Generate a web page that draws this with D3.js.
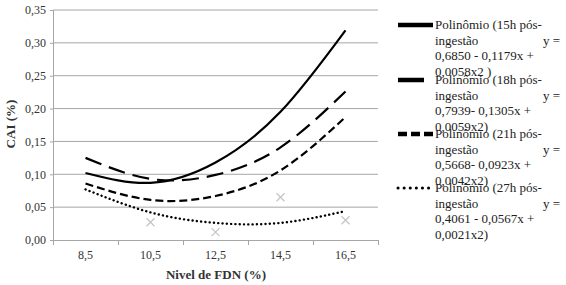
<!DOCTYPE html>
<html>
<head>
<meta charset="utf-8">
<script src="https://cdn.jsdelivr.net/npm/d3@7"></script>
</head>
<body style="margin:0; background:#fff">
<div id="chart"></div>
<script>
var categories = ["8,5", "10,5", "12,5", "14,5", "16,5"];
var yTicks = [0, 0.05, 0.10, 0.15, 0.20, 0.25, 0.30, 0.35];

// curve values read at each level
var s15 = [0.102, 0.087, 0.118, 0.195, 0.319];
var s18 = [0.125, 0.093, 0.099, 0.141, 0.226];
var s21 = [0.086, 0.061, 0.067, 0.106, 0.187];
var s27 = [0.077, 0.042, 0.026, 0.026, 0.044];

// scattered markers (category, value)
var markCats = ["10,5", "12,5", "14,5", "16,5"];
var markVals = [0.027, 0.012, 0.065, 0.030];

var legendLines = [
  ["Polinômio (15h pós-", "ingestão", "0,6850 - 0,1179x +", "0,0058x2 )"],
  ["Polinômio (18h pós-", "ingestão", "0,7939- 0,1305x +", "0,0059x2)"],
  ["Polinômio (21h pós-", "ingestão", "0,5668- 0,0923x +", "0,0042x2)"],
  ["Polinômio (27h pós-", "ingestão", "0,4061 - 0,0567x +", "0,0021x2)"]
];

var styles = [
  {dash: null, w: 2.2, cap: "butt", lw: 4.5, ldash: null},
  {dash: "17,8", w: 2.2, cap: "butt", lw: 4.5, ldash: "26,20"},
  {dash: "8,4", w: 2.2, cap: "butt", lw: 4.5, ldash: "9,4"},
  {dash: "0.1,4.2", w: 2.4, cap: "round", lw: 3, ldash: "0.1,6"}
];
var series = [s15, s18, s21, s27];

var serif = "'Liberation Serif', 'Times New Roman', serif";

var svg = d3.select("#chart").append("svg")
    .attr("width", 566)
    .attr("height", 285);

var x = d3.scaleBand().domain(categories).range([53, 378]).padding(0);
var y = d3.scaleLinear().domain([0, 0.35]).range([240, 10]);
var cx = function(c) { return x(c) + x.bandwidth() / 2; };

// gridlines
svg.append("g").selectAll("line")
    .data(yTicks.slice(1))
    .enter().append("line")
    .attr("x1", 53).attr("x2", 378)
    .attr("y1", function(d) { return y(d); })
    .attr("y2", function(d) { return y(d); })
    .attr("stroke", "#a6a6a6").attr("stroke-width", 1);

var fmt = function(d) { return d3.format(".2f")(d).replace(".", ","); };

var yAxis = d3.axisLeft(y).tickValues(yTicks).tickSize(3).tickFormat(fmt);
var gy = svg.append("g").attr("transform", "translate(53,0)").call(yAxis);
gy.select(".domain").attr("stroke", "#a6a6a6");
gy.selectAll(".tick line").attr("stroke", "#a6a6a6");
gy.selectAll("text").style("font-family", serif).style("font-size", "12px")
    .attr("fill", "#333").attr("x", -7);

var xAxis = d3.axisBottom(x).tickSize(0);
var gx = svg.append("g").attr("transform", "translate(0,240)").call(xAxis);
gx.select(".domain").attr("stroke", "#a6a6a6");
gx.selectAll("text").style("font-family", serif).style("font-size", "12px")
    .attr("fill", "#333").attr("dy", "1.3em");
// boundary ticks
var bounds = categories.map(function(c) { return x(c); }).concat([x.range()[1]]);
gx.selectAll(".bt").data(bounds).enter().append("line")
    .attr("x1", function(d) { return d + 0.5; }).attr("x2", function(d) { return d + 0.5; })
    .attr("y1", 0).attr("y2", 5).attr("stroke", "#a6a6a6");

// markers
svg.append("g").selectAll("path")
    .data(markVals)
    .enter().append("path")
    .attr("d", function(d, i) {
      var px = cx(markCats[i]), py = y(d), r = 4;
      return "M" + (px - r) + "," + (py - r) + "L" + (px + r) + "," + (py + r) +
             "M" + (px - r) + "," + (py + r) + "L" + (px + r) + "," + (py - r);
    })
    .attr("stroke", "#c4c4c4").attr("stroke-width", 1.2).attr("fill", "none");

var line = d3.line()
    .x(function(d, i) { return cx(categories[i]); })
    .y(function(d) { return y(d); })
    .curve(d3.curveNatural);

svg.append("g").selectAll("path")
    .data(series)
    .enter().append("path")
    .attr("d", line)
    .attr("fill", "none")
    .attr("stroke", "#000")
    .attr("stroke-width", function(d, i) { return styles[i].w; })
    .attr("stroke-linecap", function(d, i) { return styles[i].cap; })
    .attr("stroke-dasharray", function(d, i) { return styles[i].dash; });

// axis titles
svg.append("text")
    .attr("transform", "translate(15,124) rotate(-90)")
    .attr("text-anchor", "middle")
    .style("font-family", serif).style("font-size", "13px").style("font-weight", "bold")
    .attr("fill", "#333")
    .text("CAI (%)");

svg.append("text")
    .attr("x", 216).attr("y", 279)
    .attr("text-anchor", "middle")
    .style("font-family", serif).style("font-size", "13px").style("font-weight", "bold")
    .attr("fill", "#333")
    .text("Nivel de FDN (%)");

// legend
var legY = [25, 80, 134, 188];
var leg = svg.append("g").selectAll("g")
    .data(legendLines)
    .enter().append("g")
    .attr("transform", function(d, i) { return "translate(0," + legY[i] + ")"; });

leg.append("line")
    .attr("x1", 398).attr("x2", 433).attr("y1", 0).attr("y2", 0)
    .attr("stroke", "#000")
    .attr("stroke-width", function(d, i) { return styles[i].lw; })
    .attr("stroke-linecap", function(d, i) { return styles[i].cap; })
    .attr("stroke-dasharray", function(d, i) { return styles[i].ldash; });

leg.append("text")
    .style("font-family", serif).style("font-size", "13px")
    .attr("fill", "#222")
    .selectAll("tspan")
    .data(function(d) { return d; })
    .enter().append("tspan")
    .attr("x", 435)
    .attr("y", function(d, i) { return 4 + i * 15.5; })
    .text(function(d) { return d; });

leg.append("text")
    .attr("x", 543).attr("y", 19.5)
    .style("font-family", serif).style("font-size", "13px")
    .attr("fill", "#222")
    .text("y =");
</script>
</body>
</html>
